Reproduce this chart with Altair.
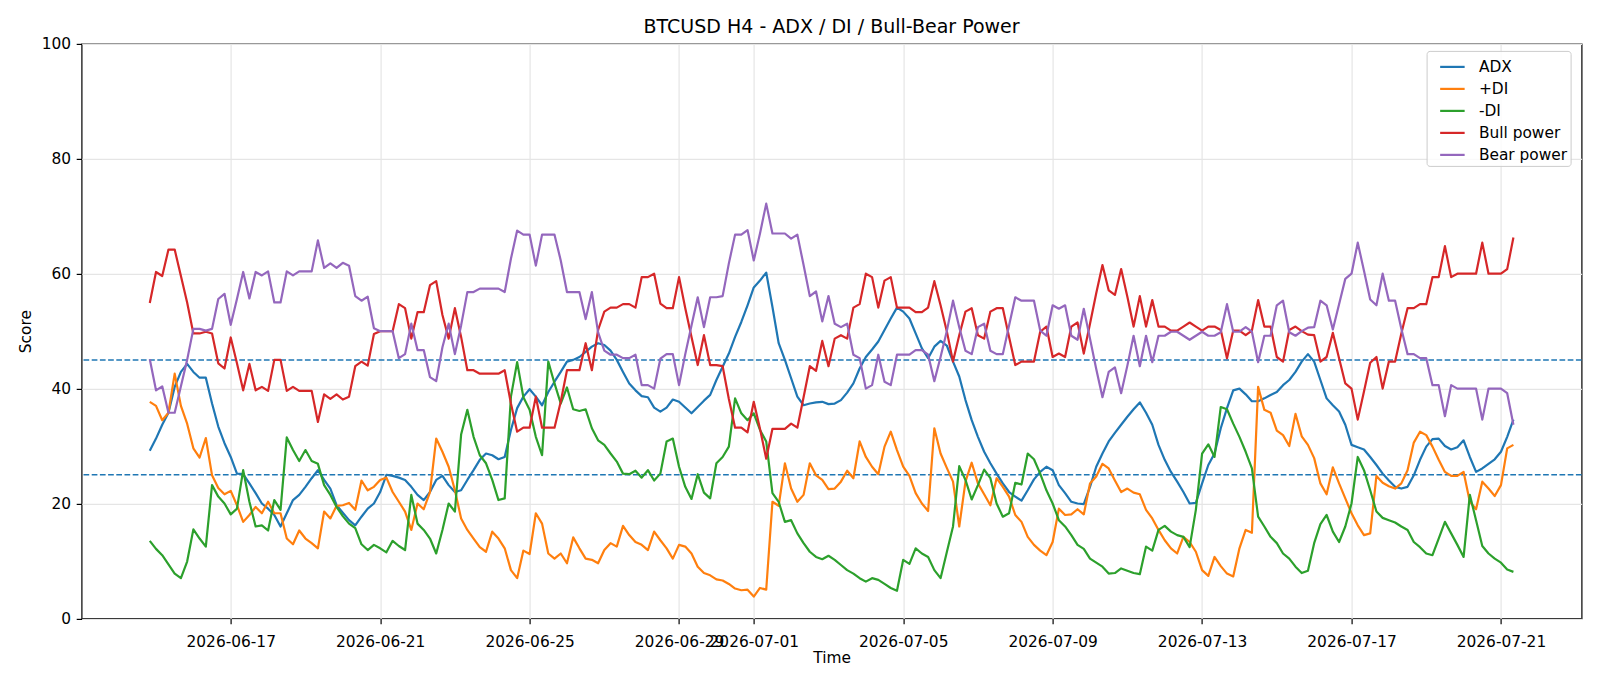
import altair as alt
import pandas as pd

# ---------------- data (4-hour bars) ----------------
start_time = "2026-06-14 20:00"
bar_step = "4h"

adx = [
    29.2, 31.3, 33.7, 35.8, 40.3, 42.9, 44.3, 42.9, 41.9, 41.9, 37.4, 33.4, 30.5, 28.1, 25.2, 25.1, 23.5, 21.8,
    20.0, 19.1, 18.0, 16.0, 18.3, 20.6, 21.5, 22.9, 24.4, 25.8, 24.1, 22.6, 19.7, 18.4, 17.1, 16.2, 17.7, 19.1,
    20.0, 22.0, 25.0, 24.8, 24.5, 24.1, 22.9, 21.5, 20.6, 22.0, 24.1, 24.8, 23.2, 22.0, 22.3, 24.1, 25.8, 27.6, 28.7,
    28.4, 27.7, 28.1, 32.8, 36.6, 38.6, 39.9, 38.6, 37.1, 39.4, 41.2, 42.9, 44.7, 45.0, 45.5, 46.4, 47.3, 47.9,
    47.6, 46.6, 45.0, 42.9, 40.9, 39.7, 38.7, 38.5, 36.7, 36.0, 36.7, 38.1, 37.7, 36.7, 35.7, 36.8, 37.9, 38.9, 41.5,
    43.8, 46.1, 49.0, 51.6, 54.5, 57.6, 58.8, 60.2, 54.2, 47.9, 45.0, 41.8, 38.6, 37.1, 37.4, 37.6, 37.7, 37.3,
    37.4, 38.0, 39.3, 40.9, 43.5, 45.5, 46.8, 48.2, 50.2, 52.2, 54.1, 53.4, 52.2, 49.6, 47.0, 45.3, 47.3, 48.3,
    47.5,
    44.7, 42.1, 38.0, 34.5, 31.6, 29.0, 27.0, 25.2, 23.5, 22.0, 21.2, 20.5, 22.3, 24.2, 25.5, 26.4, 25.8, 23.2,
    21.8, 20.3, 20.0, 19.9, 22.9, 26.4, 28.7, 30.8, 32.3, 33.7, 35.1, 36.4, 37.6, 35.8, 33.7, 30.2, 27.6, 25.5, 23.8,
    22.0, 20.0, 20.1, 23.5, 26.7, 28.7, 33.1, 36.6, 39.7, 40.0, 39.0, 37.8, 37.8, 38.3, 38.9, 39.4, 40.6, 41.5,
    42.9, 44.7, 46.0, 44.7, 41.5, 38.3, 37.1, 36.0, 33.7, 30.2, 29.8, 29.4, 28.1, 26.7, 25.2, 24.0, 22.9, 22.6,
    22.9, 24.9, 27.6, 29.9, 31.2, 31.3, 30.0, 29.4, 29.8, 31.0, 28.1, 25.5, 26.1, 26.9, 27.7, 29.0, 31.6, 34.6,
]

plus_di = [
    37.7, 37.0, 34.5, 35.8, 42.6, 37.0, 33.9, 29.6, 28.0, 31.4, 24.9, 22.7, 21.6, 22.2, 19.7, 16.8, 18.0, 19.4,
    18.3, 20.3, 18.3, 18.3, 13.9, 12.9, 15.3, 13.9, 13.1, 12.2, 18.6, 17.4, 19.6, 19.7, 20.1, 18.9, 24.0, 22.3,
    22.9, 24.1, 24.5, 22.0, 20.3, 18.6, 15.4, 20.0, 19.0, 22.0, 31.3, 29.0, 26.4, 22.3, 17.4, 15.4, 13.9, 12.4, 11.6,
    15.1, 13.9, 12.2, 8.4, 7.0, 11.8, 11.2, 18.3, 16.5, 11.3, 10.4, 11.3, 9.6, 14.1, 12.2, 10.4, 10.2, 9.6,
    11.9, 13.1, 12.5, 16.1, 14.5, 13.3, 12.8, 11.9, 15.1, 13.6, 12.2, 10.4, 12.8, 12.5, 11.3, 9.0, 7.9, 7.5, 6.8,
    6.6, 6.0, 5.2, 4.9, 5.0, 3.8, 5.3, 5.0, 20.3, 19.6, 27.0, 22.6, 20.3, 21.5, 27.0, 24.9, 24.1, 22.5,
    22.6, 23.8, 25.7, 24.4, 30.8, 28.1, 26.4, 25.1, 29.9, 32.5, 29.3, 26.4, 24.8, 21.8, 20.0, 18.7, 33.1, 28.7,
    26.2,
    23.8, 16.0, 23.8, 27.1, 23.5, 21.6, 19.7, 24.4, 22.9, 21.2, 18.0, 16.8, 14.2, 12.8, 11.8, 11.0, 13.3, 19.1,
    18.0, 18.1, 19.0, 18.1, 23.5, 24.7, 26.9, 26.1, 24.0, 22.0, 22.6, 21.9, 21.6, 18.9, 17.4, 15.4, 13.6, 12.2, 11.3,
    14.2, 13.3, 11.6, 8.4, 7.4, 10.7, 9.1, 7.8, 7.3, 12.2, 15.4, 14.9, 40.3, 36.3, 35.8, 32.7, 31.9, 30.0,
    35.6, 31.7, 30.2, 27.9, 23.5, 21.6, 26.3, 23.5, 20.9, 18.3, 16.2, 14.5, 14.8, 24.8, 23.6, 23.0, 22.6, 23.5,
    25.8, 30.6, 32.5, 31.9, 29.9, 27.6, 25.5, 24.8, 24.8, 25.5, 20.3, 19.0, 23.8, 22.6, 21.3, 23.2, 29.6, 30.2,
]

minus_di = [
    13.5, 12.1, 11.0, 9.4, 7.8, 7.0, 9.9, 15.5, 13.9, 12.5, 23.2, 21.2, 20.0, 18.1, 19.1, 25.8, 20.3, 16.0,
    16.2, 15.3, 20.6, 18.9, 31.5, 29.3, 27.4, 29.3, 27.4, 26.9, 23.2, 21.5, 19.4, 17.8, 16.5, 15.7, 12.9, 11.9,
    12.8, 12.2, 11.5, 13.5, 12.6, 11.9, 21.5, 16.5, 15.4, 13.9, 11.3, 15.4, 20.0, 18.6, 32.0, 36.3, 31.6, 28.4, 27.0,
    24.1, 20.6, 20.9, 38.6, 44.6, 38.5, 36.3, 31.6, 28.4, 44.7, 40.9, 37.4, 40.2, 36.4, 36.1, 36.4, 33.1, 31.0,
    30.2, 28.7, 27.3, 25.2, 25.1, 25.7, 24.5, 25.8, 24.0, 25.2, 30.8, 31.3, 26.4, 22.9, 20.8, 25.1, 21.9, 20.9, 27.0,
    28.1, 29.9, 38.3, 35.7, 34.5, 35.7, 32.8, 30.8, 21.8, 20.3, 16.8, 17.1, 14.8, 13.1, 11.6, 10.7, 10.3, 10.9,
    10.2, 9.3, 8.4, 7.8, 7.0, 6.4, 7.0, 6.7, 6.0, 5.3, 4.8, 10.2, 9.5, 12.2, 11.3, 10.7, 8.4, 7.0,
    11.5,
    16.0, 26.5, 24.1, 20.7, 23.2, 25.9, 24.4, 20.0, 17.7, 18.3, 23.6, 23.3, 28.7, 27.7, 25.2, 22.3, 20.0, 17.1,
    16.0, 14.5, 12.8, 12.1, 10.4, 9.7, 9.0, 7.8, 7.9, 8.7, 8.3, 7.9, 7.7, 12.5, 11.8, 15.4, 16.1, 15.1, 14.5,
    14.2, 12.4, 18.9, 28.7, 30.3, 28.1, 36.8, 36.4, 33.9, 31.6, 29.0, 26.1, 17.7, 16.0, 14.2, 13.1, 11.3, 10.4,
    9.0, 7.9, 8.3, 13.1, 16.4, 18.0, 15.1, 13.3, 16.0, 20.0, 28.1, 25.8, 22.3, 18.6, 17.5, 17.1, 16.7, 16.0,
    15.4, 13.3, 12.4, 11.3, 11.0, 13.9, 16.8, 14.8, 12.8, 10.7, 21.5, 17.1, 12.6, 11.3, 10.4, 9.7, 8.5, 8.1,
]

bull_power = [
    54.9, 60.3, 59.6, 64.2, 64.2, 59.6, 55.0, 49.6, 49.6, 49.9, 49.6, 44.4, 43.5, 48.9, 44.4, 39.7, 44.3, 39.7,
    40.3, 39.6, 45.0, 45.0, 39.6, 40.3, 39.6, 39.6, 39.6, 34.2, 39.0, 38.2, 39.0, 38.1, 38.6, 43.9, 44.7, 44.0,
    49.5, 50.0, 50.0, 50.0, 54.7, 54.0, 48.7, 53.3, 53.3, 58.0, 58.7, 52.8, 48.7, 54.0, 49.0, 43.2, 43.2, 42.6, 42.6,
    42.6, 42.6, 43.2, 37.4, 32.5, 33.2, 33.2, 38.6, 33.2, 33.2, 33.2, 37.7, 43.2, 43.2, 43.2, 47.9, 43.2, 50.2,
    53.4, 54.1, 54.1, 54.7, 54.7, 54.1, 59.4, 59.4, 60.0, 54.8, 54.0, 54.0, 59.4, 54.0, 49.0, 44.1, 49.3, 44.1, 44.1,
    43.9, 38.2, 33.2, 33.2, 32.4, 37.7, 33.0, 27.8, 33.0, 33.0, 33.0, 33.9, 33.2, 38.5, 43.9, 43.1, 48.3, 43.9,
    48.7, 49.3, 48.7, 54.1, 54.7, 60.0, 59.4, 54.1, 58.8, 59.4, 54.1, 54.1, 54.1, 53.3, 53.3, 54.1, 58.7, 54.5,
    50.0,
    44.7, 49.3, 53.4, 54.0, 49.3, 48.7, 53.4, 54.0, 54.0, 49.0, 44.1, 44.7, 44.7, 44.7, 49.9, 50.8, 45.5, 46.1,
    45.5, 50.8, 51.5, 46.1, 51.3, 56.6, 61.5, 57.1, 56.3, 60.8, 56.0, 50.8, 56.1, 50.8, 55.4, 50.8, 50.8, 50.1, 50.1,
    50.8, 51.5, 50.8, 50.1, 50.8, 50.8, 50.2, 45.3, 50.1, 50.1, 49.3, 50.1, 55.4, 50.8, 50.8, 45.5, 44.7, 50.2,
    50.8, 50.0, 49.4, 49.3, 44.7, 45.5, 49.7, 45.3, 40.9, 40.0, 34.6, 39.5, 44.5, 45.5, 40.0, 44.7, 44.7, 49.6,
    54.0, 54.0, 54.7, 54.7, 59.4, 59.4, 64.8, 59.4, 60.0, 60.0, 60.0, 60.0, 65.4, 60.0, 60.0, 60.0, 60.8, 66.3,
]

bear_power = [
    45.1, 39.7, 40.4, 35.8, 35.8, 40.4, 45.0, 50.4, 50.4, 50.1, 50.4, 55.6, 56.5, 51.1, 55.6, 60.3, 55.7, 60.3,
    59.7, 60.4, 55.0, 55.0, 60.4, 59.7, 60.4, 60.4, 60.4, 65.8, 61.0, 61.8, 61.0, 61.9, 61.4, 56.1, 55.3, 56.0,
    50.5, 50.0, 50.0, 50.0, 45.3, 46.0, 51.3, 46.7, 46.7, 42.0, 41.3, 47.2, 51.3, 46.0, 51.0, 56.8, 56.8, 57.4, 57.4,
    57.4, 57.4, 56.8, 62.6, 67.5, 66.8, 66.8, 61.4, 66.8, 66.8, 66.8, 62.3, 56.8, 56.8, 56.8, 52.1, 56.8, 49.8,
    46.6, 45.9, 45.9, 45.3, 45.3, 45.9, 40.6, 40.6, 40.0, 45.2, 46.0, 46.0, 40.6, 46.0, 51.0, 55.9, 50.7, 55.9, 55.9,
    56.1, 61.8, 66.8, 66.8, 67.6, 62.3, 67.0, 72.2, 67.0, 67.0, 67.0, 66.1, 66.8, 61.5, 56.1, 56.9, 51.7, 56.1,
    51.3, 50.7, 51.3, 45.9, 45.3, 40.0, 40.6, 45.9, 41.2, 40.6, 45.9, 45.9, 45.9, 46.7, 46.7, 45.9, 41.3, 45.5,
    50.0,
    55.3, 50.7, 46.6, 46.0, 50.7, 51.3, 46.6, 46.0, 46.0, 51.0, 55.9, 55.3, 55.3, 55.3, 50.1, 49.2, 54.5, 53.9,
    54.5, 49.2, 48.5, 53.9, 48.7, 43.4, 38.5, 42.9, 43.7, 39.2, 44.0, 49.2, 43.9, 49.2, 44.6, 49.2, 49.2, 49.9, 49.9,
    49.2, 48.5, 49.2, 49.9, 49.2, 49.2, 49.8, 54.7, 49.9, 49.9, 50.7, 49.9, 44.6, 49.2, 49.2, 54.5, 55.3, 49.8,
    49.2, 50.0, 50.6, 50.7, 55.3, 54.5, 50.3, 54.7, 59.1, 60.0, 65.4, 60.5, 55.5, 54.5, 60.0, 55.3, 55.3, 50.4,
    46.0, 46.0, 45.3, 45.3, 40.6, 40.6, 35.2, 40.6, 40.0, 40.0, 40.0, 40.0, 34.6, 40.0, 40.0, 40.0, 39.2, 33.7,
]

series_names = ["ADX", "+DI", "-DI", "Bull power", "Bear power"]
series_colors = ["#1f77b4", "#ff7f0e", "#2ca02c", "#d62728", "#9467bd"]
threshold_levels = [25, 45]
tick_dates = ["2026-06-17", "2026-06-21", "2026-06-25", "2026-06-29", "2026-07-01",
              "2026-07-05", "2026-07-09", "2026-07-13", "2026-07-17", "2026-07-21"]
y_ticks = [0, 20, 40, 60, 80, 100]
chart_title = "BTCUSD H4 - ADX / DI / Bull-Bear Power"

# ---------------- build table ----------------
all_series = [adx, plus_di, minus_di, bull_power, bear_power]
n = min(len(s) for s in all_series)
times = pd.date_range(start_time, periods=n, freq=bar_step)
time_str = [t.strftime("%Y-%m-%dT%H:%M:%SZ") for t in times]

rows = []
for name, vals in zip(series_names, all_series):
    for t, v in zip(time_str, vals[:n]):
        rows.append({"time": t, "value": v, "series": name})
df = pd.DataFrame(rows)
hl = pd.DataFrame({"level": threshold_levels})

FONT = "DejaVu Sans"
FS = 15.4

def dt(s, h=0, m=0):
    y, mo, d = s.split("-")
    return alt.DateTime(year=int(y), month=int(mo), date=int(d), hours=h, minutes=m, utc=True)

x_scale = alt.Scale(type="utc", domain=[dt("2026-06-13", 0, 12), dt("2026-07-23", 3, 48)], nice=False)
y_scale = alt.Scale(domain=[0, 100], nice=False, zero=False)

x_axis = alt.Axis(values=[dt(s) for s in tick_dates], format="%Y-%m-%d", title="Time",
                  labelOverlap=False, labelFlush=False, labelPadding=11, titlePadding=0)
y_axis = alt.Axis(values=y_ticks, title="Score", labelPadding=5.6, titlePadding=8)

color_scale = alt.Scale(domain=series_names, range=series_colors)

layers = []
for name in series_names:
    layers.append(
        alt.Chart(df)
        .transform_filter(alt.datum.series == name)
        .mark_line(strokeWidth=2.2, strokeJoin="round", clip=True)
        .encode(
            x=alt.X("time:T", scale=x_scale, axis=x_axis),
            y=alt.Y("value:Q", scale=y_scale, axis=y_axis),
            color=alt.Color(
                "series:N", scale=color_scale,
                legend=alt.Legend(
                    title=None, orient="none", legendX=1345, legendY=7,
                    symbolType="stroke", symbolStrokeWidth=2.2, symbolSize=600,
                    symbolOffset=9.8,
                    labelFontSize=FS, labelFont=FONT, labelColor="black",
                    labelOffset=13, rowPadding=-0.8, padding=2.5,
                    fillColor="rgba(255,255,255,0.8)", strokeColor="#cccccc",
                    cornerRadius=3,
                ),
            ),
        )
    )

rules = (
    alt.Chart(hl)
    .mark_rule(color="#1f77b4", strokeWidth=1.5, strokeDash=[5.7, 2.5])
    .encode(y=alt.Y("level:Q", scale=y_scale))
)

chart = (
    alt.layer(rules, *layers)
    .properties(
        width=1500, height=574.5,
        autosize="none",
        padding={"left": 81.6, "top": 43.9, "right": 18.4, "bottom": 67.6},
        title=alt.TitleParams(chart_title, fontSize=19, font=FONT, fontWeight="normal",
                              color="black", anchor="middle", offset=0),
    )
    .configure_view(stroke="black", strokeWidth=1.2)
    .configure_axis(
        labelFont=FONT, labelFontSize=FS, labelColor="black",
        titleFont=FONT, titleFontSize=FS, titleFontWeight="normal", titleColor="black",
        tickColor="black", tickSize=5.4, tickWidth=1.2,
        domain=False, grid=True, gridColor="#e5e5e5", gridWidth=1.2,
    )
)

chart.save("out.html", embed_options={"renderer": "svg", "actions": False})
